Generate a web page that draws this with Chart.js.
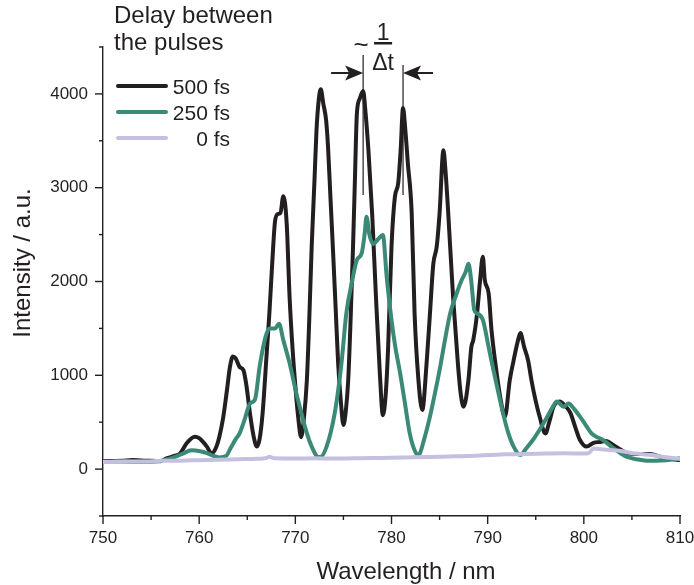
<!DOCTYPE html>
<html>
<head>
<meta charset="utf-8">
<title>Delay between the pulses</title>
<script src="https://cdn.jsdelivr.net/npm/chart.js@4.4.1/dist/chart.umd.min.js"></script>
<style>
  body { margin: 0; background: #fff; }
  #wrap { width: 694px; height: 585px; position: relative; }
</style>
</head>
<body>
<div id="wrap"><canvas id="spectrum"></canvas></div>
<script>
// spectra (wavelength in nm, intensity in a.u.)
var wavelength500 = [750, 752, 753.1, 754.5, 756, 756.6, 757.4, 758.0, 758.7, 759.55, 760.0, 760.4, 760.8, 761.3, 761.8, 762.1, 762.5, 762.9, 763.2, 763.5, 763.8, 764.2, 764.6, 764.9, 765.3, 765.7, 766.0, 766.3, 766.6, 767.0, 767.3, 767.6, 767.9, 768.2, 768.45, 768.75, 769.1, 769.4, 769.7, 769.95, 770.3, 770.6, 770.9, 771.2, 771.45, 771.7, 772.0, 772.2, 772.45, 772.65, 772.9, 773.2, 773.4, 773.65, 773.9, 774.2, 774.45, 774.75, 775.0, 775.25, 775.5, 775.75, 776.0, 776.2, 776.4, 776.7, 777.05, 777.3, 777.6, 778.0, 778.4, 778.8, 779.1, 779.4, 779.65, 780.0, 780.35, 780.7, 780.95, 781.2, 781.45, 781.7, 782.1, 782.4, 782.8, 783.2, 783.65, 784.0, 784.35, 784.7, 785.0, 785.4, 785.6, 785.9, 786.4, 786.9, 787.2, 787.5, 788.0, 788.3, 788.5, 788.9, 789.2, 789.5, 789.7, 790.1, 790.4, 790.8, 791.3, 791.8, 792.3, 792.7, 793.1, 793.4, 793.8, 794.2, 794.55, 794.9, 795.4, 796.0, 796.4, 796.85, 797.5, 798.0, 798.6, 799.1, 799.6, 800.3, 801.0, 801.7, 802.3, 803.1, 803.8, 804.5, 805.5, 806.9, 808.0, 809.0, 810];
var intensity500 = [85, 90, 96, 90, 85, 114, 140, 165, 275, 345, 330, 290, 240, 165, 240, 345, 550, 850, 1090, 1200, 1180, 1090, 1055, 900, 580, 330, 240, 330, 600, 1200, 1660, 2200, 2650, 2720, 2730, 2910, 2620, 1840, 1300, 950, 550, 340, 550, 950, 1600, 2370, 3100, 3610, 3950, 4050, 3900, 3720, 3435, 2900, 2370, 1700, 1130, 700, 470, 620, 950, 1600, 2370, 3100, 3790, 3950, 4030, 3800, 3400, 2700, 1800, 1000, 575, 800, 1300, 2370, 2900, 3050, 3400, 3850, 3600, 3260, 2730, 1660, 950, 630, 1130, 1660, 2190, 2370, 2730, 3400, 3200, 2730, 1840, 1130, 800, 665, 950, 1300, 1375, 1660, 2000, 2265, 2015, 1875, 1480, 1130, 770, 560, 950, 1160, 1350, 1450, 1300, 1160, 950, 770, 560, 380, 500, 665, 720, 680, 600, 450, 310, 240, 280, 290, 300, 255, 210, 170, 160, 160, 130, 110, 96];

var wavelength250 = [750, 752, 754, 755.5, 756.5, 757.5, 758.3, 759.2, 760.1, 760.8, 761.5, 762.1, 762.8, 763.3, 763.8, 764.2, 764.7, 765.3, 765.8, 766.3, 766.9, 767.3, 767.9, 768.3, 768.75, 769.4, 770.1, 770.5, 771.0, 771.7, 772.4, 772.6, 773.25, 774.1, 774.8, 775.3, 775.9, 776.4, 776.9, 777.2, 777.4, 777.7, 778.1, 778.6, 779.1, 779.5, 780.0, 780.4, 780.9, 781.4, 781.9, 782.4, 782.8, 783.4, 784.0, 784.5, 785.0, 785.6, 786.1, 786.7, 787.3, 787.7, 788.0, 788.3, 788.6, 788.9, 789.5, 790.1, 790.6, 791.1, 791.6, 792.1, 792.7, 793.4, 794.0, 794.7, 795.4, 796.1, 796.7, 797.2, 797.9, 798.4, 799.0, 799.6, 800.2, 800.8, 801.4, 802.0, 803.1, 803.8, 804.5, 805.5, 806.5, 807.5, 808.6, 810];
var intensity250 = [80, 80, 78, 80, 100, 130, 165, 200, 190, 170, 140, 125, 140, 230, 320, 380, 520, 700, 740, 1100, 1410, 1500, 1500, 1550, 1375, 1130, 810, 650, 450, 240, 130, 130, 240, 600, 1130, 1660, 2000, 2230, 2300, 2500, 2690, 2500, 2400, 2450, 2495, 2050, 1590, 1300, 1020, 700, 380, 200, 150, 320, 560, 800, 1055, 1400, 1660, 1850, 2015, 2100, 2190, 2000, 1700, 1660, 1590, 1300, 1055, 820, 595, 400, 240, 150, 220, 310, 420, 540, 650, 720, 665, 700, 640, 560, 470, 380, 340, 310, 220, 170, 130, 105, 90, 90, 95, 115];

var wavelength0 = [750, 752, 754, 756, 758, 760, 762, 764, 766, 767, 767.3, 767.8, 770, 772, 774, 776, 778, 780, 782, 784, 786, 788, 790, 792, 794, 796, 798, 800, 800.5, 801, 802, 803, 804, 805, 806, 807, 808, 809, 810];
var intensity0 = [75, 80, 80, 88, 90, 95, 100, 105, 110, 118, 132, 115, 112, 115, 112, 115, 118, 120, 125, 130, 135, 140, 150, 158, 160, 165, 168, 165, 170, 220, 210, 200, 190, 170, 160, 150, 135, 120, 108];

var seriesLabels = ['500 fs', '250 fs', '0 fs'];
var seriesColors = ['#231f20', '#3b8a78', '#c4c0e0'];
var legendTitle = ['Delay between', 'the pulses'];
var peakMarks = [777.05, 781.2];   // the two peaks marked with arrows

var ink = '#231f20';
var fontFamily = "'Liberation Sans', Arial, sans-serif";

function points(xs, ys) {
    return xs.map(function (x, i) { return { x: x, y: ys[i] }; });
}

function arrowHead(ctx, tipX, y, dir) {
    ctx.beginPath();
    ctx.moveTo(tipX, y);
    ctx.lineTo(tipX - dir * 18, y - 7.5);
    ctx.lineTo(tipX - dir * 14, y);
    ctx.lineTo(tipX - dir * 18, y + 7.5);
    ctx.closePath();
    ctx.fill();
}

var decor = {
    id: 'decor',
    afterDraw: function (chart) {
        var ctx = chart.ctx;
        var xs = chart.scales.x, ys = chart.scales.y;
        var area = chart.chartArea;
        ctx.save();
        ctx.strokeStyle = ink;
        ctx.fillStyle = ink;
        ctx.lineWidth = 1.4;

        // tick marks, long for labelled values, short for the rest
        ys.ticks.forEach(function (t) {
            var py = ys.getPixelForValue(t.value);
            var len = (t.value >= 0 && t.value % 1000 === 0) ? 8 : 4;
            ctx.beginPath();
            ctx.moveTo(area.left - len, py);
            ctx.lineTo(area.left, py);
            ctx.stroke();
        });
        xs.ticks.forEach(function (t) {
            var px = xs.getPixelForValue(t.value);
            var len = (t.value % 10 === 0) ? 8 : 4;
            ctx.beginPath();
            ctx.moveTo(px, area.bottom);
            ctx.lineTo(px, area.bottom + len);
            ctx.stroke();
        });

        // axis titles
        ctx.font = '24px ' + fontFamily;
        ctx.textAlign = 'center';
        ctx.textBaseline = 'alphabetic';
        ctx.fillText('Wavelength / nm', 406, 579);
        ctx.save();
        ctx.translate(30, 263);
        ctx.rotate(-Math.PI / 2);
        ctx.fillText('Intensity / a.u.', 0, 0);
        ctx.restore();

        // legend
        ctx.textAlign = 'left';
        ctx.font = '24px ' + fontFamily;
        ctx.fillText(legendTitle[0], 114, 23);
        ctx.fillText(legendTitle[1], 114, 50);
        ctx.font = '21px ' + fontFamily;
        ctx.textAlign = 'right';
        ctx.lineCap = 'round';
        seriesLabels.forEach(function (lab, i) {
            var ly = 86 + i * 26;
            ctx.strokeStyle = seriesColors[i];
            ctx.lineWidth = 4;
            ctx.beginPath();
            ctx.moveTo(118, ly);
            ctx.lineTo(166, ly);
            ctx.stroke();
            ctx.fillText(lab, 230, ly + 7.5);
        });

        // 1/Δt marker between the two central peaks
        var p1 = xs.getPixelForValue(peakMarks[0]);
        var p2 = xs.getPixelForValue(peakMarks[1]);
        ctx.strokeStyle = ink;
        ctx.lineWidth = 1.2;
        ctx.lineCap = 'butt';
        ctx.beginPath();
        ctx.moveTo(p1, 55); ctx.lineTo(p1, 195);
        ctx.moveTo(p2, 65); ctx.lineTo(p2, 195);
        ctx.stroke();
        ctx.lineWidth = 2;
        ctx.beginPath();
        ctx.moveTo(p1 - 32, 73); ctx.lineTo(p1 - 14, 73);
        ctx.moveTo(p2 + 30, 73); ctx.lineTo(p2 + 14, 73);
        ctx.stroke();
        arrowHead(ctx, p1, 73, 1);
        arrowHead(ctx, p2, 73, -1);

        var mid = (p1 + p2) / 2;
        ctx.textAlign = 'center';
        ctx.font = '23px ' + fontFamily;
        ctx.fillText('1', mid, 40);
        ctx.fillRect(mid - 9, 42, 18, 2.5);
        ctx.fillText('\u0394t', mid, 70);
        ctx.font = '26px ' + fontFamily;
        ctx.fillText('~', mid - 22, 53);
        ctx.restore();
    }
};

var chart = new Chart(document.getElementById('spectrum'), {
    type: 'line',
    data: {
        datasets: [
            { label: seriesLabels[0], data: points(wavelength500, intensity500), borderColor: seriesColors[0], order: 2 },
            { label: seriesLabels[1], data: points(wavelength250, intensity250), borderColor: seriesColors[1], order: 1 },
            { label: seriesLabels[2], data: points(wavelength0, intensity0), borderColor: seriesColors[2], order: 0 }
        ]
    },
    options: {
        responsive: true,
        maintainAspectRatio: false,
        animation: false,
        parsing: false,
        datasets: {
            line: {
                borderWidth: 4,
                pointRadius: 0,
                cubicInterpolationMode: 'monotone',
                fill: false
            }
        },
        layout: { autoPadding: false, padding: { left: 0, right: 14, top: 47, bottom: 0 } },
        plugins: {
            legend: { display: false },
            tooltip: { enabled: false }
        },
        scales: {
            x: {
                type: 'linear',
                min: 750,
                max: 810,
                afterFit: function (s) { s.height = 69; s.paddingLeft = 0; s.paddingRight = 0; },
                border: { display: true, color: ink, width: 1.4 },
                grid: { display: true, drawOnChartArea: false, drawTicks: true, tickLength: 8, tickColor: 'transparent' },
                ticks: {
                    stepSize: 5,
                    autoSkip: false,
                    maxRotation: 0,
                    padding: 4,
                    color: ink,
                    font: { family: fontFamily, size: 17 },
                    callback: function (v) { return v % 10 === 0 ? v : ''; }
                }
            },
            y: {
                min: -500,
                max: 4500,
                afterFit: function (s) { s.width = 103; s.paddingTop = 0; s.paddingBottom = 0; },
                border: { display: true, color: ink, width: 1.4 },
                grid: { display: true, drawOnChartArea: false, drawTicks: true, tickLength: 8, tickColor: 'transparent' },
                ticks: {
                    stepSize: 500,
                    autoSkip: false,
                    padding: 7,
                    color: ink,
                    font: { family: fontFamily, size: 17 },
                    callback: function (v) { return (v >= 0 && v % 1000 === 0) ? v : ''; }
                }
            }
        }
    },
    plugins: [decor]
});
</script>
</body>
</html>
